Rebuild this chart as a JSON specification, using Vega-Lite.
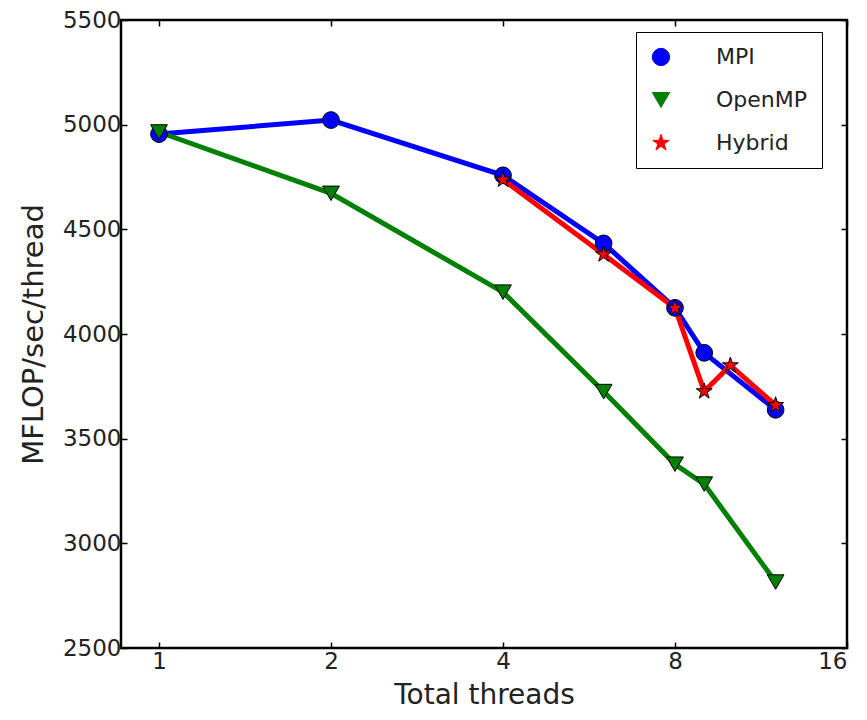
{
  "$schema": "https://vega.github.io/schema/vega-lite/v6.json",
  "width": 726,
  "height": 628,
  "autosize": {"type": "none"},
  "padding": {"left": 121, "top": 20, "right": 20, "bottom": 72},
  "background": "white",
  "config": {
    "font": "DejaVu Sans",
    "view": {"stroke": "black", "strokeWidth": 2.5},
    "axis": {"domain": false, "grid": false, "tickColor": "black", "tickSize": -6, "tickWidth": 1.5, "labelColor": "#222", "titleColor": "#222", "labelFont": "DejaVu Sans", "titleFont": "DejaVu Sans", "titleFontWeight": "normal"},
    "legend": {"orient": "none", "legendX": 515, "legendY": 12, "strokeColor": "black", "fillColor": "white", "padding": 14, "labelFontSize": 22, "labelColor": "#222", "rowPadding": 21, "symbolSize": 300, "symbolStrokeColor": "black", "symbolStrokeWidth": 1, "labelOffset": 44}
  },
  "data": {
    "values": [
      {"threads": 1, "mflops": 4955, "model": "MPI"},
      {"threads": 2, "mflops": 5022, "model": "MPI"},
      {"threads": 4, "mflops": 4758, "model": "MPI"},
      {"threads": 6, "mflops": 4433, "model": "MPI"},
      {"threads": 8, "mflops": 4125, "model": "MPI"},
      {"threads": 9, "mflops": 3910, "model": "MPI"},
      {"threads": 12, "mflops": 3638, "model": "MPI"},
      {"threads": 1, "mflops": 4965, "model": "OpenMP"},
      {"threads": 2, "mflops": 4672, "model": "OpenMP"},
      {"threads": 4, "mflops": 4200, "model": "OpenMP"},
      {"threads": 6, "mflops": 3725, "model": "OpenMP"},
      {"threads": 8, "mflops": 3378, "model": "OpenMP"},
      {"threads": 9, "mflops": 3283, "model": "OpenMP"},
      {"threads": 12, "mflops": 2815, "model": "OpenMP"},
      {"threads": 4, "mflops": 4737, "model": "Hybrid"},
      {"threads": 6, "mflops": 4380, "model": "Hybrid"},
      {"threads": 8, "mflops": 4124, "model": "Hybrid"},
      {"threads": 9, "mflops": 3726, "model": "Hybrid"},
      {"threads": 10, "mflops": 3850, "model": "Hybrid"},
      {"threads": 12, "mflops": 3660, "model": "Hybrid"}
    ]
  },
  "layer": [
    {
      "mark": {"type": "line", "strokeWidth": 5},
      "encoding": {
        "x": {"field": "threads", "type": "quantitative", "scale": {"type": "log", "base": 2, "domain": [0.858, 16], "nice": false, "zero": false},
              "axis": {"values": [1, 2, 4, 8, 16], "format": "d", "title": "Total threads", "labelFontSize": 23, "titleFontSize": 28, "labelPadding": 8, "titlePadding": 8}},
        "y": {"field": "mflops", "type": "quantitative", "scale": {"domain": [2500, 5500], "nice": false, "zero": false},
              "axis": {"values": [2500, 3000, 3500, 4000, 4500, 5000, 5500], "format": "d", "title": "MFLOP/sec/thread", "labelFontSize": 23, "titleFontSize": 29, "labelPadding": 6, "titlePadding": 14}},
        "color": {"field": "model", "type": "nominal", "scale": {"domain": ["MPI", "OpenMP", "Hybrid"], "range": ["#0000ff", "#008000", "#ff0000"]}},
        "order": {"field": "threads", "type": "quantitative"}
      }
    },
    {
      "mark": {"type": "point", "filled": true, "size": 280, "strokeWidth": 1, "opacity": 1},
      "encoding": {
        "x": {"field": "threads", "type": "quantitative", "scale": {"type": "log", "base": 2, "domain": [0.858, 16], "nice": false, "zero": false},
              "axis": {"orient": "top", "values": [1, 2, 4, 8, 16], "labels": false, "title": null}},
        "y": {"field": "mflops", "type": "quantitative", "scale": {"domain": [2500, 5500], "nice": false, "zero": false},
              "axis": {"orient": "right", "values": [2500, 3000, 3500, 4000, 4500, 5000, 5500], "labels": false, "title": null}},
        "color": {"field": "model", "type": "nominal", "scale": {"domain": ["MPI", "OpenMP", "Hybrid"], "range": ["#0000ff", "#008000", "#ff0000"]},
                  "legend": {"title": null, "symbolStrokeColor": "black", "symbolStrokeWidth": 1,
                             "encode": {"symbols": {"enter": {"stroke": {"value": "black"}, "strokeWidth": {"value": 1}}, "update": {"stroke": {"value": "black"}, "strokeWidth": {"value": 1}, "opacity": {"value": 1}}}}}},
        "stroke": {"value": "black"},
        "shape": {"field": "model", "type": "nominal", "scale": {"domain": ["MPI", "OpenMP", "Hybrid"], "range": ["circle", "triangle-down", "M0,-1L0.2245,-0.309L0.951,-0.309L0.363,0.118L0.588,0.809L0,0.382L-0.588,0.809L-0.363,0.118L-0.951,-0.309L-0.2245,-0.309Z"]}, "legend": {"title": null}}
      }
    }
  ],
  "resolve": {"axis": {"x": "independent", "y": "independent"}}
}
